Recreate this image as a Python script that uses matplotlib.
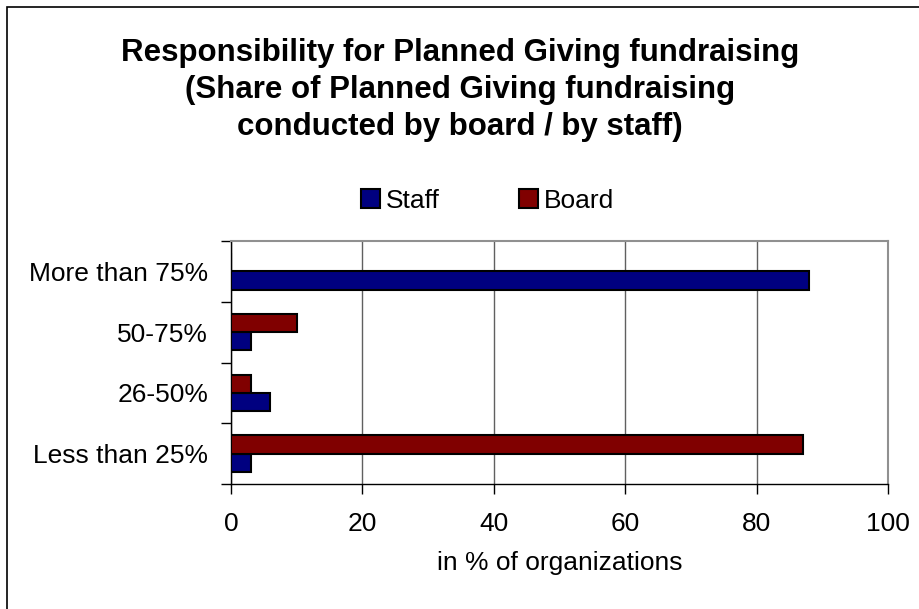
import numpy as np
import matplotlib.pyplot as plt
from matplotlib.patches import Rectangle

plt.rcParams['font.family'] = ['Liberation Sans', 'DejaVu Sans']

categorias = ["Less than 25%", "26-50%", "50-75%", "More than 75%"]
staff = [3, 6, 3, 88]
board = [87, 3, 10, 0]
xticks = [0, 20, 40, 60, 80, 100]

titulo = ("Responsibility for Planned Giving fundraising\n"
          "(Share of Planned Giving fundraising\n"
          "conducted by board / by staff)")

fig = plt.figure(figsize=(9.2, 6.09), dpi=100)
ax = fig.add_axes([231/920, 1-484/609, (888-231)/920, (484-241)/609])

y = np.arange(len(categorias))
h = 0.3  # alto de cada barra
ax.barh(y - h/2, staff, height=h, color='#000080', edgecolor='black', linewidth=1.5, label='Staff', zorder=3)
ax.barh(y + h/2, board, height=h, color='#800000', edgecolor='black', linewidth=1.5, label='Board', zorder=3)

ax.set_xlim(0, 100)
ax.set_ylim(-0.5, len(categorias) - 0.5)
ax.set_xticks(xticks)
ax.set_xticklabels([str(v) for v in xticks], fontsize=19)
ax.set_yticks(y)
ax.set_yticklabels(categorias, fontsize=19)
ax.set_yticks(np.arange(len(categorias) + 1) - 0.5, minor=True)
ax.tick_params(axis='y', which='major', length=0, pad=16.5)
ax.tick_params(axis='y', which='minor', length=7, width=1, color='black')
ax.tick_params(axis='x', length=7, width=1, color='black', pad=13)
ax.grid(axis='x', color='#606060', linewidth=1, zorder=0)

for lado in ['top', 'right']:
    ax.spines[lado].set_color('#909090')
    ax.spines[lado].set_linewidth(1.5)
for lado in ['left', 'bottom']:
    ax.spines[lado].set_color('black')
    ax.spines[lado].set_linewidth(1)

ax.set_xlabel("in % of organizations", fontsize=19, labelpad=11)

fig.text(0.5, 1-90/609, titulo, ha='center', va='center', fontsize=22.5,
         fontweight='bold', linespacing=1.3)

fig.legend(loc='center', bbox_to_anchor=(0.53, 1-200.5/609), ncol=2, frameon=False,
           fontsize=19, handlelength=0.72, handleheight=0.72, handletextpad=0.23,
           columnspacing=3.0)

# marco exterior (solo se ven los bordes izquierdo y superior)
fig.patches.append(Rectangle((7/920, -0.05), 1.0, 1.05-6.5/609, transform=fig.transFigure,
                             fill=False, edgecolor='black', linewidth=1.2))

fig.savefig('out.png', dpi=100)
